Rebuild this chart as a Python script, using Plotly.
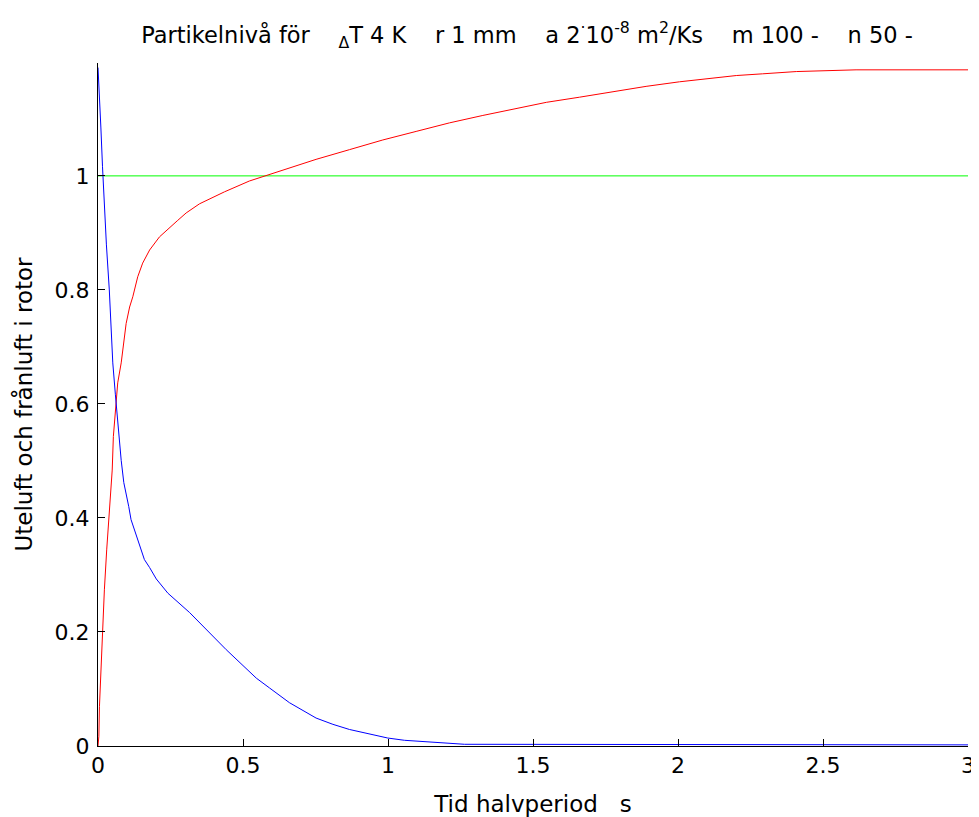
import plotly.graph_objects as go

# Red curve (frånluft)
red_t = [0.0, 0.003, 0.005, 0.011, 0.014, 0.022, 0.030, 0.040, 0.049, 0.053, 0.060, 0.068,
         0.080, 0.086, 0.097, 0.109, 0.120, 0.137, 0.154, 0.178, 0.212, 0.275, 0.304, 0.35,
         0.436, 0.522, 0.637, 0.752, 0.867, 0.982, 1.097, 1.212, 1.327, 1.430, 1.546, 1.660,
         1.775, 1.890, 2.005, 2.126, 2.201, 2.291, 2.408, 2.614, 3.0]
red_v = [0.0, 0.017, 0.069, 0.139, 0.204, 0.274, 0.344, 0.414, 0.484, 0.543, 0.590, 0.637,
         0.672, 0.700, 0.741, 0.770, 0.788, 0.823, 0.847, 0.870, 0.893, 0.922, 0.935, 0.951,
         0.972, 0.991, 1.010, 1.029, 1.046, 1.063, 1.078, 1.093, 1.106, 1.117, 1.129, 1.138,
         1.148, 1.157, 1.165, 1.172, 1.176, 1.179, 1.183, 1.186, 1.186]

# Blue curve (uteluft)
blue_t = [0.0, 0.005, 0.010, 0.0155, 0.022, 0.029, 0.039, 0.044, 0.051, 0.060, 0.067, 0.073,
          0.080, 0.089, 0.097, 0.106, 0.114, 0.126, 0.137, 0.149, 0.160, 0.178, 0.201, 0.241,
          0.316, 0.442, 0.546, 0.591, 0.660, 0.752, 0.810, 0.867, 0.925, 0.999, 1.057, 1.143,
          1.264, 3.0]
blue_v = [1.19, 1.120, 1.084, 1.016, 0.947, 0.879, 0.800, 0.737, 0.672, 0.616, 0.570, 0.532,
          0.501, 0.462, 0.444, 0.420, 0.397, 0.379, 0.362, 0.344, 0.327, 0.313, 0.293, 0.268,
          0.234, 0.169, 0.119, 0.102, 0.076, 0.049, 0.038, 0.029, 0.022, 0.014, 0.010, 0.007,
          0.003, 0.002]

# Reference level
green_t = [0.0, 3.0]
green_v = [1.0, 1.0]

x_ticks = [0, 0.5, 1, 1.5, 2, 2.5, 3]
x_tick_labels = ["0", "0.5", "1", "1.5", "2", "2.5", "3"]
y_ticks = [0, 0.2, 0.4, 0.6, 0.8, 1]
y_tick_labels = ["0", "0.2", "0.4", "0.6", "0.8", "1"]

S = "\u00a0"
title = ("Partikelnivå för" + S * 4 + "<sub>Δ</sub>T 4 K" + S * 4 + "r 1 mm" + S * 4 +
         "a 2<sup>·</sup>10<sup>-8</sup> m<sup>2</sup>/Ks" + S * 4 + "m 100 -" + S * 4 + "n 50 -")

FAM = "DejaVu Sans, Verdana, sans-serif"
FS = 22

# page body has an 8px margin; figure is sized/offset to compensate
W, H = 971, 809

fig = go.Figure()
fig.add_trace(go.Scatter(x=green_t, y=green_v, mode="lines",
                         line=dict(color="#00FF00", width=1), hoverinfo="skip"))
fig.add_trace(go.Scatter(x=red_t, y=red_v, mode="lines",
                         line=dict(color="#FF0000", width=1)))
fig.add_trace(go.Scatter(x=blue_t, y=blue_v, mode="lines",
                         line=dict(color="#0000FF", width=1)))

font = dict(family=FAM, size=FS, color="black")
fig.update_layout(
    width=W, height=H,
    margin=dict(l=90, r=11, t=55, b=71, autoexpand=False),
    paper_bgcolor="white", plot_bgcolor="white",
    showlegend=False,
    font=font,
    title=dict(text=title, x=519 / W, xanchor="center", xref="container",
               y=1 - 27 / H, yref="container", yanchor="middle", automargin=False,
               font=dict(family=FAM, size=22.5, color="black")),
    xaxis=dict(range=[0, 3], tickvals=x_ticks, ticktext=x_tick_labels,
               showgrid=False, zeroline=False, showline=True, linecolor="black", linewidth=1,
               ticks="inside", ticklen=7, tickcolor="black", mirror=False,
               automargin=False, ticklabelstandoff=0,
               tickfont=dict(family=FAM, size=FS, color="black"),
               title=dict(text="Tid halvperiod" + S * 3 + "s", standoff=24,
                          font=dict(family=FAM, size=23, color="black"))),
    yaxis=dict(range=[0, 1.198], tickvals=y_ticks, ticktext=y_tick_labels,
               showgrid=False, zeroline=False, showline=True, linecolor="black", linewidth=1,
               ticks="inside", ticklen=7, tickcolor="black", mirror=False,
               automargin=False, ticklabelstandoff=3,
               tickfont=dict(family=FAM, size=FS, color="black"),
               title=dict(text="Uteluft och frånluft i rotor", standoff=15,
                          font=dict(family=FAM, size=23, color="black"))),
)

fig.write_html("out.html")
